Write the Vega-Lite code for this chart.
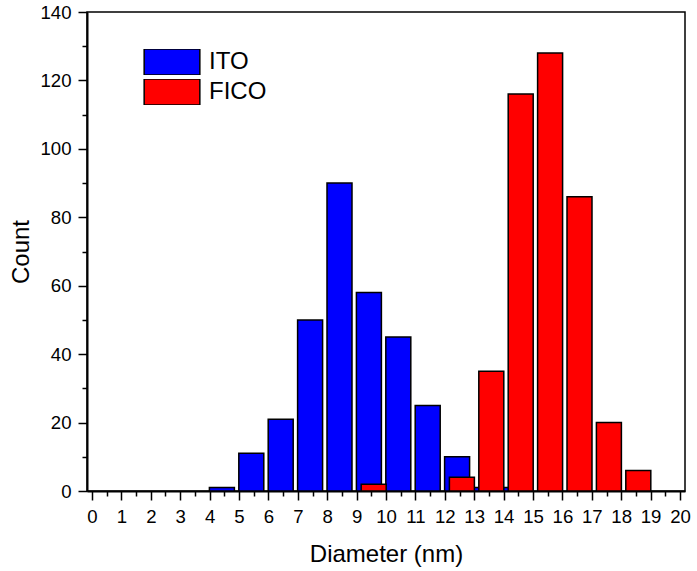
{
  "$schema": "https://vega.github.io/schema/vega-lite/v6.json",
  "width": 598,
  "height": 479,
  "autosize": {"type": "none"},
  "padding": {"left": 87, "top": 12, "right": 12, "bottom": 80},
  "background": "white",
  "config": {
    "font": "Liberation Sans",
    "view": {"stroke": "black", "strokeWidth": 1.5},
    "axis": {
      "grid": false,
      "domainColor": "black",
      "domainWidth": 2,
      "tickColor": "black",
      "tickWidth": 1.5,
      "labelColor": "black",
      "labelFont": "Liberation Sans",
      "labelFontSize": 18.6,
      "titleFont": "Liberation Sans",
      "titleFontSize": 24,
      "titleFontWeight": "normal",
      "titleColor": "black",
      "labelFlush": false,
      "labelOverlap": false,
      "labelBound": false
    },
    "legend": {
      "orient": "none",
      "legendX": 56,
      "legendY": 37,
      "padding": 0,
      "labelFont": "Liberation Sans",
      "labelFontSize": 24,
      "labelColor": "black",
      "labelOffset": 8,
      "symbolType": "M-1,-0.467H1V0.467H-1Z",
      "symbolSize": 3100,
      "symbolStrokeColor": "black",
      "symbolStrokeWidth": 1.5,
      "symbolOpacity": 1,
      "clipHeight": 26,
      "rowPadding": 4
    }
  },
  "data": {
    "values": [
      {"sample": "ITO", "diameter": 4.5, "count": 1},
      {"sample": "ITO", "diameter": 5.5, "count": 11},
      {"sample": "ITO", "diameter": 6.5, "count": 21},
      {"sample": "ITO", "diameter": 7.5, "count": 50},
      {"sample": "ITO", "diameter": 8.5, "count": 90},
      {"sample": "ITO", "diameter": 9.5, "count": 58},
      {"sample": "ITO", "diameter": 10.5, "count": 45},
      {"sample": "ITO", "diameter": 11.5, "count": 25},
      {"sample": "ITO", "diameter": 12.5, "count": 10},
      {"sample": "ITO", "diameter": 13.5, "count": 1},
      {"sample": "ITO", "diameter": 14.5, "count": 1},
      {"sample": "FICO", "diameter": 9.5, "count": 2},
      {"sample": "FICO", "diameter": 12.5, "count": 4},
      {"sample": "FICO", "diameter": 13.5, "count": 35},
      {"sample": "FICO", "diameter": 14.5, "count": 116},
      {"sample": "FICO", "diameter": 15.5, "count": 128},
      {"sample": "FICO", "diameter": 16.5, "count": 86},
      {"sample": "FICO", "diameter": 17.5, "count": 20},
      {"sample": "FICO", "diameter": 18.5, "count": 6}
    ]
  },
  "layer": [
    {
      "transform": [{"filter": "datum.sample === 'ITO'"}],
      "mark": {"type": "bar", "width": 25, "xOffset": -2.4, "stroke": "black", "strokeWidth": 1.5, "opacity": 1},
      "encoding": {
        "x": {
          "field": "diameter", "type": "quantitative",
          "scale": {"domain": [0, 20], "nice": false, "zero": false},
          "axis": {"orient": "bottom", "values": [0,1,2,3,4,5,6,7,8,9,10,11,12,13,14,15,16,17,18,19,20], "format": "d", "tickSize": 9, "labelPadding": 7, "title": "Diameter (nm)", "titlePadding": 17}
        },
        "y": {
          "field": "count", "type": "quantitative", "stack": null,
          "scale": {"domain": [0, 140], "nice": false},
          "axis": {"orient": "left", "values": [0,20,40,60,80,100,120,140], "tickSize": 9, "labelPadding": 7, "title": "Count", "titlePadding": 6}
        },
        "fill": {
          "field": "sample", "type": "nominal",
          "scale": {"domain": ["ITO", "FICO"], "range": ["#0000FF", "#FF0000"]},
          "legend": {"title": null}
        }
      }
    },
    {
      "transform": [{"filter": "datum.sample === 'FICO'"}],
      "mark": {"type": "bar", "width": 25, "xOffset": 2.4, "stroke": "black", "strokeWidth": 1.5, "opacity": 1},
      "encoding": {
        "x": {
          "field": "diameter", "type": "quantitative",
          "axis": {"orient": "bottom", "values": [0.5,1.5,2.5,3.5,4.5,5.5,6.5,7.5,8.5,9.5,10.5,11.5,12.5,13.5,14.5,15.5,16.5,17.5,18.5,19.5], "labels": false, "domain": false, "tickSize": 5, "title": null}
        },
        "y": {
          "field": "count", "type": "quantitative", "stack": null,
          "axis": {"orient": "left", "values": [10,30,50,70,90,110,130], "labels": false, "domain": false, "tickSize": 5, "title": null}
        },
        "fill": {"field": "sample", "type": "nominal", "legend": {"title": null}}
      }
    }
  ],
  "resolve": {"axis": {"x": "independent", "y": "independent"}}
}
